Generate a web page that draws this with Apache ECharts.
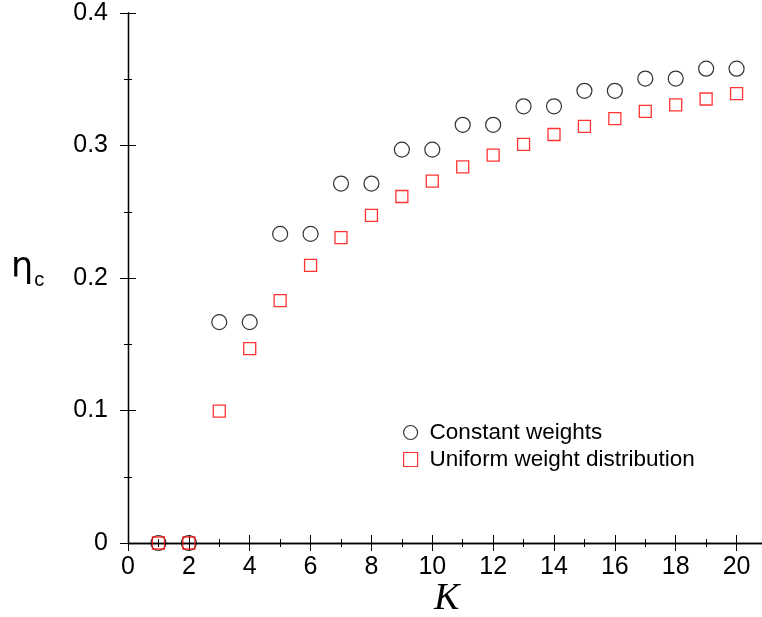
<!DOCTYPE html>
<html>
<head>
<meta charset="utf-8">
<script src="https://cdn.jsdelivr.net/npm/echarts@6/dist/echarts.min.js"></script>
<style>html,body{margin:0;padding:0;background:#fff;}#c{width:762px;height:617px;}</style>
</head>
<body>
<div id="c"></div>
<script>
var kValues = [1,2,3,4,5,6,7,8,9,10,11,12,13,14,15,16,17,18,19,20];
var constantWeights = [0,0,0.1667,0.1667,0.2333,0.2333,0.2713,0.2713,0.2969,0.2969,0.3156,0.3156,0.3296,0.3296,0.3413,0.3413,0.3505,0.3505,0.3580,0.3580];
var uniformWeights = [0,0,0.0995,0.1467,0.1830,0.2095,0.2304,0.2472,0.2615,0.2731,0.2839,0.2927,0.3008,0.3083,0.3145,0.3203,0.3257,0.3306,0.3351,0.3392];
var seriesNames = ['Constant weights','Uniform weight distribution'];

function pairs(xs, ys){ return xs.map(function(x,i){ return [x, ys[i]]; }); }

var chart = echarts.init(document.getElementById('c'), null, {renderer:'canvas'});
var axisLine = {show:true, lineStyle:{color:'#000', width:1.3}};
var font = 'Liberation Sans, Arial, sans-serif';
var tick = {show:true, inside:true, length:8, lineStyle:{color:'#000', width:1}};
var minor = {show:true, splitNumber:2, length:4, lineStyle:{color:'#000', width:1}};
chart.setOption({
  animation:false,
  backgroundColor:'#fff',
  grid:{left:128, width:639, top:13, height:530, containLabel:false, outerBoundsMode:'none'},
  xAxis:[{
    type:'value', min:0, max:21, interval:2, position:'bottom',
    axisLine:axisLine, axisTick:tick, minorTick:minor,
    splitLine:{show:false},
    axisLabel:{show:true, showMaxLabel:false, color:'#000', fontSize:25, fontFamily:font, margin:12}
  },{
    type:'value', min:0, max:21, interval:2, position:'top',
    axisLine:axisLine, axisTick:tick, minorTick:minor,
    splitLine:{show:false}, axisLabel:{show:false}
  }],
  yAxis:[{
    type:'value', min:0, max:0.4, interval:0.1, position:'left',
    axisLine:axisLine, axisTick:tick, minorTick:minor,
    splitLine:{show:false},
    axisLabel:{color:'#000', fontSize:25, fontFamily:font, margin:20,
      formatter:function(v){ return v===0 ? '0' : v.toFixed(1); }}
  },{
    type:'value', min:0, max:0.4, interval:0.1, position:'right',
    axisLine:axisLine, axisTick:tick, minorTick:minor,
    splitLine:{show:false}, axisLabel:{show:false}
  }],
  legend:{
    orient:'vertical', left:403, top:421, padding:0, itemWidth:14, itemHeight:14, itemGap:4,
    textStyle:{color:'#000', fontSize:22.5, fontFamily:font, padding:[0,0,0,7]},
    data:[
      {name:seriesNames[0], icon:'circle', itemStyle:{color:'#fff', borderColor:'#000', borderWidth:1.2}},
      {name:seriesNames[1], icon:'rect', itemStyle:{color:'#fff', borderColor:'#ff0000', borderWidth:1.2}}
    ]
  },
  graphic:[
    {type:'text', left:11, top:250, style:{text:'{a|η}{b|c}', rich:{
      a:{fontSize:35, fontFamily:'DejaVu Sans, sans-serif', fill:'#000'},
      b:{fontSize:20, fontFamily:font, fill:'#000', padding:[26,0,0,1]}}}},
    {type:'text', left:434, top:580, style:{text:'K', fontSize:38, fontStyle:'italic', fontFamily:'Liberation Serif, Times New Roman, serif', fill:'#000'}}
  ],
  series:[
    {name:seriesNames[0], type:'scatter', symbol:'circle', symbolSize:15,
      itemStyle:{color:'rgba(255,255,255,0)', borderColor:'#000', borderWidth:1.2},
      data:pairs(kValues, constantWeights), z:2},
    {name:seriesNames[1], type:'scatter', symbol:'rect', symbolSize:12,
      itemStyle:{color:'rgba(255,255,255,0)', borderColor:'#ff0000', borderWidth:1.3},
      data:pairs(kValues, uniformWeights), z:3}
  ]
});
</script>
</body>
</html>
